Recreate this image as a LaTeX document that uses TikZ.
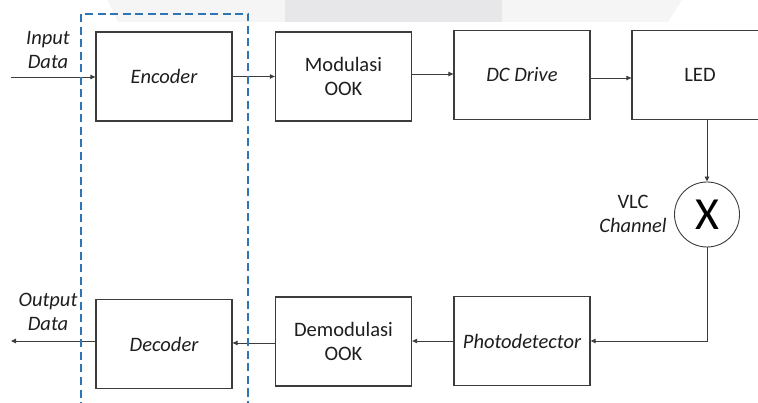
\documentclass[tikz,border=0pt]{standalone}
\usepackage{fontspec}
\setmainfont{Carlito}
\definecolor{boxline}{RGB}{60, 60, 60}
\definecolor{txtgray}{RGB}{30, 30, 30}
\definecolor{groupblue}{RGB}{46, 117, 182}
\definecolor{bandlight}{RGB}{245, 245, 246}
\definecolor{banddark}{RGB}{231, 231, 233}
\usetikzlibrary{arrows.meta, positioning, calc}
\tikzset{
  block/.style={draw=boxline, line width=1.3pt, fill=white, minimum width=136pt,
    minimum height=89pt, inner sep=0pt, align=center, text=txtgray,
    font=\fontsize{20.5}{24}\selectfont},
  flow/.style={draw=boxline, line width=0.9pt, -{Triangle[length=5pt, width=4.5pt]}},
  tag/.style={align=center, text=txtgray, font=\fontsize{20.5}{24}\selectfont}
}

\begin{document}
\begin{tikzpicture}[x=1pt, y=-1pt]
  \useasboundingbox (0, 0) rectangle (758, 403);

  % page band behind the top
  \fill[bandlight] (107, 0) -- (682, 0) -- (668, 22) -- (118, 22) -- cycle;
  \fill[banddark] (285, 0) rectangle (502, 22);

  % Transmitter row
  \node[block] (enc) at (164, 76.5) {\itshape Encoder};
  \node[block] (mod) at (343.5, 76.5) {Modulasi\\OOK};
  \node[block] (dcd) at (522, 75) {\itshape DC Drive};
  \node[block] (led) at (700, 75) {LED};

  % Channel
  \node[draw=boxline, line width=0.9pt, circle, minimum size=65pt, inner sep=0pt,
    fill=white, font=\fontsize{46}{46}\selectfont] (ch) at (707, 214.5) {X};
  \node[tag] (chlabel) at (633, 214) {VLC\\\itshape Channel};

  % Receiver row
  \node[block] (pd) at (522, 341) {\itshape Photodetector};
  \node[block] (demod) at (343.5, 341.5) {Demodulasi\\OOK};
  \node[block] (dec) at (164, 344) {\itshape Decoder};

  % Input / output
  \coordinate (in) at (11, 77);
  \coordinate (out) at (11, 341);
  \node[tag, font=\fontsize{20.5}{24}\selectfont\itshape] (inlabel) at (48, 50) {Input\\Data};
  \node[tag, font=\fontsize{20.5}{24}\selectfont\itshape] (outlabel) at (48, 312) {Output\\Data};

  % Connectors
  \draw[flow] (in) -- (in -| enc.west);
  \draw[flow] (enc.east) -- (mod.west);
  \draw[flow] (mod.east |- 0, 74) -- (dcd.west |- 0, 74);
  \draw[flow] (dcd.east |- 0, 78) -- (led.west |- 0, 78);
  \draw[flow] (led.south -| ch) -- (ch.north);
  \draw[flow] (ch.south) |- (pd.east);
  \draw[flow] (pd.west) -- (pd.west -| demod.east);
  \draw[flow] (demod.west |- 0, 343) -- (dec.east |- 0, 343);
  \draw[flow] (dec.west |- out) -- (out);

  % Encoder / decoder group
  \draw[groupblue, line width=2.7pt, dash pattern=on 8pt off 4.5pt]
    (81, 410) -- (81, 14) -- (248, 14) -- (248, 410);
\end{tikzpicture}
\end{document}
